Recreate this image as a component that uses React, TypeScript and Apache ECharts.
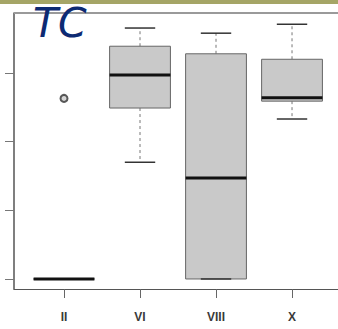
import React, { useEffect, useRef } from "react";
import * as echarts from "echarts";

const categories = ["II", "VI", "VIII", "X"];
// [min, q1, median, q3, max] in y-axis units (ticks at 0,1,2,3)
const boxMin = [0, 1.7, 0, 2.33];
const boxQ1 = [0, 2.49, 0, 2.59];
const boxMedian = [0, 2.97, 1.47, 2.64];
const boxQ3 = [0, 3.39, 3.28, 3.2];
const boxMax = [0, 3.655, 3.58, 3.71];
const outlierCategory = ["II"];
const outlierValue = [2.63];
const yTicks = [0, 1, 2, 3];

export default function App() {
  const ref = useRef<HTMLDivElement>(null);
  useEffect(() => {
    if (!ref.current) return;
    const chart = echarts.init(ref.current, null, { renderer: "svg" });
    const boxData = categories.map((_, i) => [
      i + 1,
      boxMin[i],
      boxQ1[i],
      boxMedian[i],
      boxQ3[i],
      boxMax[i],
    ]);
    const outliers = outlierCategory.map((c, i) => [
      categories.indexOf(c) + 1,
      outlierValue[i],
    ]);
    chart.setOption({
      animation: false,
      backgroundColor: "#ffffff",
      grid: { left: 14, top: 13, right: 0, bottom: 40 },
      xAxis: {
        type: "value",
        min: 0.342,
        max: 4.605,
        splitLine: { show: false },
        axisLine: { show: true, onZero: false, lineStyle: { color: "#555555", width: 1 } },
        axisTick: {
          show: true,
          length: 9,
          customValues: [1, 2, 3, 4],
          lineStyle: { color: "#666666" },
        },
        axisLabel: {
          show: true,
          customValues: [1, 2, 3, 4],
          formatter: (v: number) => categories[Math.round(v) - 1] || "",
          margin: 22,
          fontSize: 12,
          fontWeight: "bold",
          color: "#3a3a3a",
          fontFamily: "Liberation Sans",
        },
      },
      yAxis: {
        type: "value",
        min: -0.146,
        max: 3.874,
        splitLine: { show: false },
        axisLine: { show: true, onZero: false, lineStyle: { color: "#555555", width: 1.5 } },
        axisTick: {
          show: true,
          length: 9,
          customValues: yTicks,
          lineStyle: { color: "#777777" },
        },
        axisLabel: { show: false },
      },
      graphic: {
        elements: [
          {
            type: "rect",
            left: 0,
            top: 0,
            shape: { width: 338, height: 4 },
            style: { fill: "#a5a566" },
            z: 10,
          },
          {
            type: "rect",
            left: 14,
            top: 12,
            shape: { width: 324, height: 2 },
            style: { fill: "#9a9a9a" },
            z: 10,
          },
          {
            type: "text",
            left: 33,
            top: 2,
            style: {
              text: "TC",
              font: "italic 41px 'DejaVu Sans'",
              fill: "#0d2a73",
            },
            z: 11,
          },
        ],
      },
      series: [
        {
          type: "custom",
          data: boxData,
          encode: { x: 0, y: [1, 2, 3, 4, 5] },
          renderItem: (params: any, api: any) => {
            const x = api.value(0);
            const vMin = api.value(1);
            const vQ1 = api.value(2);
            const vMed = api.value(3);
            const vQ3 = api.value(4);
            const vMax = api.value(5);
            const left = api.coord([x - 0.4, 0])[0];
            const right = api.coord([x + 0.4, 0])[0];
            const cx = api.coord([x, 0])[0];
            const capL = api.coord([x - 0.2, 0])[0];
            const capR = api.coord([x + 0.2, 0])[0];
            const yMin = api.coord([x, vMin])[1];
            const yQ1 = api.coord([x, vQ1])[1];
            const yMed = api.coord([x, vMed])[1];
            const yQ3 = api.coord([x, vQ3])[1];
            const yMax = api.coord([x, vMax])[1];
            const dashed = { stroke: "#777777", lineWidth: 1, lineDash: [3, 3] };
            const cap = { stroke: "#333333", lineWidth: 1.5 };
            return {
              type: "group",
              children: [
                { type: "line", shape: { x1: cx, y1: yQ3, x2: cx, y2: yMax }, style: dashed },
                { type: "line", shape: { x1: cx, y1: yQ1, x2: cx, y2: yMin }, style: dashed },
                {
                  type: "rect",
                  shape: { x: left, y: yQ3, width: right - left, height: yQ1 - yQ3 },
                  style: { fill: "#c9c9c9", stroke: "#666666", lineWidth: 1 },
                },
                { type: "line", shape: { x1: capL, y1: yMax, x2: capR, y2: yMax }, style: cap },
                { type: "line", shape: { x1: capL, y1: yMin, x2: capR, y2: yMin }, style: cap },
                {
                  type: "line",
                  shape: { x1: left, y1: yMed, x2: right, y2: yMed },
                  style: { stroke: "#111111", lineWidth: 3 },
                },
              ],
            };
          },
        },
        {
          type: "scatter",
          data: outliers,
          symbol: "circle",
          symbolSize: 7,
          itemStyle: { color: "#cccccc", borderColor: "#333333", borderWidth: 2 },
        },
      ],
    });
    return () => chart.dispose();
  }, []);
  return (
    <div
      ref={ref}
      style={{ position: "fixed", left: 0, top: 0, width: 338, height: 329 }}
    />
  );
}
